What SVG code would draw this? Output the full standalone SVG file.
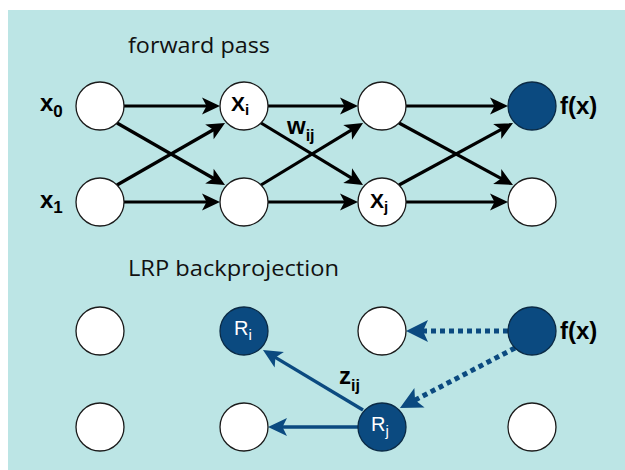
<svg xmlns="http://www.w3.org/2000/svg" width="625" height="470" viewBox="0 0 625 470">
<style>
.node{fill:#ffffff;stroke:#1a1a1a;stroke-width:1.3}
.bnode{fill:#0b4a80;stroke:#0a2a45;stroke-width:1.3}
.title{font-family:"Open Sans","Noto Sans",sans-serif;font-size:22px;fill:#111}
.lbl{font-family:"Liberation Sans",Arial,sans-serif;font-weight:bold;font-size:24px;fill:#000}
.in{font-family:"Liberation Sans",Arial,sans-serif;font-weight:bold;font-size:21px;fill:#000}
.rin{font-family:"Liberation Sans",Arial,sans-serif;font-size:20px;fill:#fff}
.fw{stroke:#000;stroke-width:3.2;fill:none;marker-end:url(#ab)}
.bs{stroke:#0b4a80;stroke-width:3.4;fill:none;marker-end:url(#abs)}
.bd{stroke:#0b4a80;stroke-width:5;stroke-dasharray:5 4;fill:none;marker-end:url(#abd)}
</style>
<defs>
<marker id="ab" markerUnits="userSpaceOnUse" orient="auto" refX="0" refY="0" markerWidth="20" markerHeight="20" overflow="visible">
<path d="M8,0 L-10,-8.5 L-5.5,0 L-10,8.5 Z" fill="#000"/>
</marker>
<marker id="abs" markerUnits="userSpaceOnUse" orient="auto" refX="0" refY="0" markerWidth="20" markerHeight="20" overflow="visible">
<path d="M9,0 L-10,-9 L-5.5,0 L-10,9 Z" fill="#0b4a80"/>
</marker>
<marker id="abd" markerUnits="userSpaceOnUse" orient="auto" refX="0" refY="0" markerWidth="24" markerHeight="24" overflow="visible">
<path d="M12,0 L-10,-11 L-5,0 L-10,11 Z" fill="#0b4a80"/>
</marker>
</defs>
<rect x="0" y="0" width="625" height="470" fill="#ffffff"/>
<rect x="8" y="10" width="617" height="460" fill="#bce5e5"/>
<text class="title" x="128" y="53" textLength="142" lengthAdjust="spacingAndGlyphs">forward pass</text>
<text class="title" x="128" y="276" textLength="211" lengthAdjust="spacingAndGlyphs">LRP backprojection</text>
<g id="connectors">
<path class="fw" d="M124,106 L212,106"/>
<path class="fw" d="M268,106 L350,106"/>
<path class="fw" d="M406,106 L500,106"/>
<path class="fw" d="M124,202 L212,202"/>
<path class="fw" d="M268,202 L350,202"/>
<path class="fw" d="M406,202 L500,202"/>
<path class="fw" d="M117,123 L218.1,181"/>
<path class="fw" d="M117,185 L218.1,127"/>
<path class="fw" d="M261,123 L356.2,180.8"/>
<path class="fw" d="M261,185 L356.2,127.2"/>
<path class="fw" d="M399,123 L506,181.2"/>
<path class="fw" d="M399,185 L506,126.8"/>
<path class="bd" d="M508,331 L418,331"/>
<path class="bd" d="M515,348 L410.6,402.4"/>
<path class="bs" d="M363,410 L270.7,354.6"/>
<path class="bs" d="M358,427 L277,427"/>
</g>
<text class="lbl" x="287" y="134">w<tspan font-size="16" dy="7">ij</tspan></text>
<text class="lbl" x="339" y="384">z<tspan font-size="16" dy="7">ij</tspan></text>
<g id="n_x0"><circle class="node" cx="100" cy="106" r="24"/><text class="lbl" x="40" y="111">x<tspan font-size="17" dy="6">0</tspan></text></g>
<g id="n_x1"><circle class="node" cx="100" cy="202" r="24"/><text class="lbl" x="40" y="208">x<tspan font-size="17" dy="5">1</tspan></text></g>
<g id="n_xi"><circle class="node" cx="244" cy="106" r="24"/><text class="in" x="231" y="111">X<tspan font-size="15" dy="4">i</tspan></text></g>
<g id="n_h12"><circle class="node" cx="244" cy="202" r="24"/></g>
<g id="n_h21"><circle class="node" cx="382" cy="106" r="24"/></g>
<g id="n_xj"><circle class="node" cx="382" cy="202" r="24"/><text class="in" x="370" y="208">X<tspan font-size="15" dy="4">j</tspan></text></g>
<g id="n_fx"><circle class="bnode" cx="532" cy="106" r="24"/><text class="lbl" x="560" y="114">f(x)</text></g>
<g id="n_o2"><circle class="node" cx="532" cy="202" r="24"/></g>
<g id="b_11"><circle class="node" cx="100" cy="331" r="24"/></g>
<g id="b_12"><circle class="node" cx="100" cy="427" r="24"/></g>
<g id="b_ri"><circle class="bnode" cx="244" cy="331" r="24"/><text class="rin" x="234" y="335">R<tspan font-size="15" dy="5">i</tspan></text></g>
<g id="b_22"><circle class="node" cx="244" cy="427" r="24"/></g>
<g id="b_31"><circle class="node" cx="382" cy="331" r="24"/></g>
<g id="b_rj"><circle class="bnode" cx="382" cy="427" r="24"/><text class="rin" x="371" y="431">R<tspan font-size="15" dy="5">j</tspan></text></g>
<g id="b_fx"><circle class="bnode" cx="532" cy="331" r="24"/><text class="lbl" x="560" y="339">f(x)</text></g>
<g id="b_42"><circle class="node" cx="532" cy="427" r="24"/></g>
</svg>
